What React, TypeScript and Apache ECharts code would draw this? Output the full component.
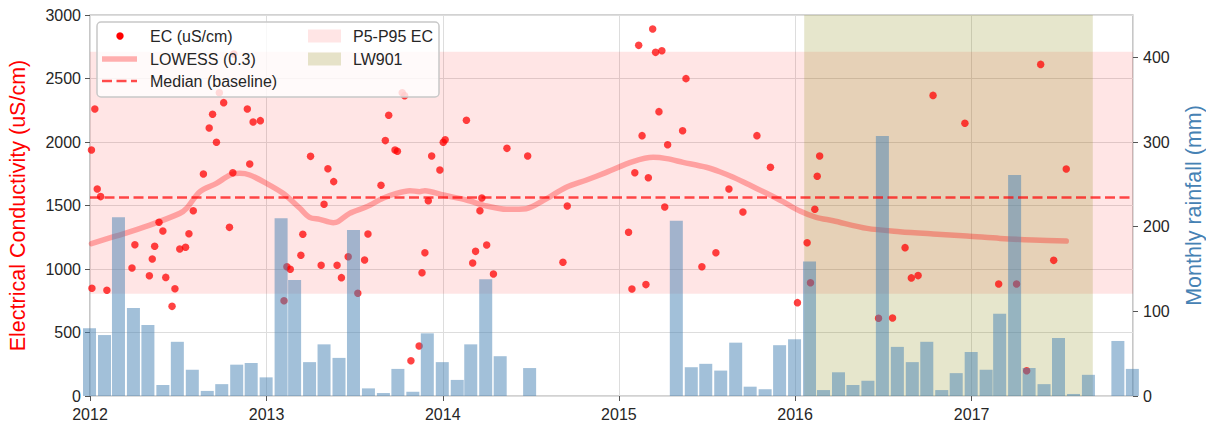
import React, { useEffect, useRef } from 'react';
import * as echarts from 'echarts';

const ecDates = [
  '2012-01-04','2012-01-05','2012-01-11','2012-01-16','2012-01-23','2012-02-05','2012-03-28','2012-04-03',
  '2012-05-03','2012-05-09','2012-05-14','2012-05-23','2012-05-31','2012-06-06','2012-06-19','2012-06-25',
  '2012-07-05','2012-07-17','2012-07-24','2012-08-02','2012-08-23','2012-09-04','2012-09-11','2012-09-19',
  '2012-09-25','2012-10-04','2012-10-16','2012-10-23','2012-10-25','2012-11-22','2012-11-27','2012-12-04',
  '2012-12-19','2013-02-06','2013-02-12','2013-02-19','2013-03-13','2013-03-17','2013-04-02','2013-04-24',
  '2013-04-30','2013-05-08','2013-05-20','2013-05-27','2013-06-05','2013-06-19','2013-07-09','2013-07-23',
  '2013-07-30','2013-08-26','2013-09-04','2013-09-11','2013-09-24','2013-09-29','2013-10-09','2013-10-14',
  '2013-10-27','2013-11-13','2013-11-19','2013-11-25','2013-12-02','2013-12-09','2013-12-26','2014-01-02',
  '2014-01-06','2014-02-19','2014-03-04','2014-03-10','2014-03-19','2014-03-23','2014-04-02','2014-04-16',
  '2014-05-14','2014-06-26','2014-09-07','2014-09-16','2015-01-21','2015-01-28','2015-02-03','2015-02-11',
  '2015-02-18','2015-02-26','2015-03-03','2015-03-12','2015-03-18','2015-03-25','2015-03-31','2015-04-06',
  '2015-04-12','2015-05-13','2015-05-20','2015-06-22','2015-07-21','2015-08-17','2015-09-15','2015-10-14',
  '2015-11-11','2016-01-06','2016-01-26','2016-02-02','2016-02-11','2016-02-16','2016-02-21','2016-06-22',
  '2016-07-21','2016-08-16','2016-08-29','2016-09-12','2016-10-13','2016-12-18','2017-02-26','2017-04-04',
  '2017-04-25','2017-05-24','2017-06-20','2017-07-16',
];
const ecValues = [
  1937, 848, 2260, 1630, 1570, 832, 1008, 1191,
  947, 1079, 1179, 1368, 1299, 934, 706, 845,
  1157, 1171, 1278, 1459, 1748, 2110, 2218, 1998,
  2388, 2310, 1328, 1758, 2693, 2260, 1827, 2157,
  2168, 750, 1018, 998, 1108, 1273, 1887, 1029,
  1510, 1790, 1688, 1029, 932, 1097, 809, 1071,
  1276, 1659, 2011, 2210, 1937, 1927, 2388, 2365,
  278, 394, 970, 1128, 1538, 1890, 1780, 1998,
  2018, 2171, 1047, 1139, 1459, 1559, 1189, 961,
  1950, 1890, 1053, 1496, 1289, 843, 1758, 2761,
  2050, 877, 1719, 2890, 2706, 2239, 2719, 1488,
  1979, 2089, 2499, 1018, 1128, 1630, 1449, 2050,
  1801, 735, 1207, 892, 1470, 1730, 1890, 612,
  614, 1168, 930, 948, 2367, 2147, 882, 882,
  199, 2611, 1068, 1787,
];

const lowessDates = [
  '2012-01-04','2012-02-25','2012-05-04','2012-07-05','2012-07-19','2012-08-16','2012-09-19','2012-10-17',
  '2012-11-06','2012-11-27','2013-01-01','2013-02-04','2013-03-11','2013-03-31','2013-04-21','2013-05-19',
  '2013-05-29','2013-06-22','2013-07-27','2013-08-30','2013-09-27','2013-10-25','2013-11-14','2013-11-25',
  '2014-01-02','2014-02-19','2014-04-02','2014-05-13','2014-06-23','2014-07-28','2014-09-14','2014-10-26',
  '2014-12-06','2015-01-30','2015-03-13','2015-04-10','2015-05-14','2015-07-01','2015-07-29','2015-08-26',
  '2015-09-29','2015-11-03','2015-12-07','2016-01-11','2016-02-14','2016-03-20','2016-05-29','2016-08-05',
  '2016-10-13','2016-12-22','2017-03-01','2017-05-08','2017-07-16',
];
const lowessValues = [
  1200, 1260, 1346, 1438, 1478, 1609, 1674, 1740,
  1753, 1740, 1674, 1596, 1478, 1407, 1391, 1365,
  1373, 1438, 1490, 1557, 1596, 1617, 1609, 1617,
  1583, 1543, 1496, 1470, 1475, 1538, 1643, 1701,
  1761, 1845, 1879, 1869, 1840, 1801, 1766, 1722,
  1661, 1596, 1530, 1457, 1407, 1380, 1320, 1294,
  1276, 1260, 1241, 1228, 1220,
];

const rainMonths = [
  '2011-12',
  '2012-01','2012-02','2012-03','2012-04','2012-05','2012-06','2012-07','2012-08','2012-09','2012-10','2012-11','2012-12',
  '2013-01','2013-02','2013-03','2013-04','2013-05','2013-06','2013-07','2013-08','2013-09','2013-10','2013-11','2013-12',
  '2014-01','2014-02','2014-03','2014-04','2014-05','2014-06','2014-07','2014-08','2014-09','2014-10','2014-11','2014-12',
  '2015-01','2015-02','2015-03','2015-04','2015-05','2015-06','2015-07','2015-08','2015-09','2015-10','2015-11','2015-12',
  '2016-01','2016-02','2016-03','2016-04','2016-05','2016-06','2016-07','2016-08','2016-09','2016-10','2016-11','2016-12',
  '2017-01','2017-02','2017-03','2017-04','2017-05','2017-06','2017-07','2017-08','2017-09','2017-10','2017-11',
];
const rainValues = [
  80,
  72, 211, 104, 84, 13, 64, 31, 6, 14, 37, 39, 22,
  210, 137, 40, 61, 45, 196, 9, 3.5, 32, 5, 74, 40,
  19, 61, 138, 47, 0, 33, 0, 0, 0, 0, 0, 0,
  0, 0, 0, 207, 34, 38, 30, 63, 11, 8, 60, 67,
  159, 7, 28, 13, 18, 307, 58, 40, 64, 7, 27, 52,
  31, 97, 261, 33, 14, 68.5, 2.4, 25, 0, 65, 32,
];

const MEDIAN_EC = 1567;
const P5_EC = 805;
const P95_EC = 2711;
const LW901_START = '2016-01-20';
const LW901_END = '2017-09-09';

const X_MIN = '2012-01-01';
const X_MAX = '2017-12-01 08:00';

const EC_TICKS_MAX = 3000;
const RAIN_MAX = 450;
const rainTickValues = [0, 100, 200, 300, 400];

const FONT = '"Liberation Sans", Arial, sans-serif';

function monthEnd(m: string): number {
  const [y, mo] = m.split('-').map(Number);
  return new Date(y, mo, 0).getTime();
}
function toTime(s: string): number {
  const [d, t] = s.split(' ');
  const [y, m, day] = d.split('-').map(Number);
  const h = t ? Number(t.split(':')[0]) : 0;
  return new Date(y, m - 1, day, h).getTime();
}

export default function App() {
  const ref = useRef<HTMLDivElement>(null);
  useEffect(() => {
    document.body.style.margin = '0';
    const chart = echarts.init(ref.current!, undefined, { renderer: 'svg' });
    const ecData = ecDates.map((d, i) => [toTime(d), ecValues[i]]);
    const lowessData = lowessDates.map((d, i) => [toTime(d), lowessValues[i]]);
    const rainData = rainMonths.map((m, i) => [monthEnd(m), rainValues[i]]);
    const xMin = toTime(X_MIN);
    const xMax = toTime(X_MAX);
    const tickColor = '#555555';
    const labelColor = '#262626';
    const option: any = {
      animation: false,
      textStyle: { fontFamily: FONT },
      grid: {
        left: 90, right: 73, top: 15, bottom: 28,
        containLabel: false, outerBoundsMode: 'none',
        show: true, borderColor: '#a6a6a6', borderWidth: 1.25, backgroundColor: 'transparent',
      },
      xAxis: [
        {
          type: 'time',
          min: xMin,
          max: xMax,
          minInterval: 365 * 24 * 3600 * 1000,
          splitNumber: 6,
          axisLine: { show: false },
          axisTick: { show: true, length: 5, lineStyle: { color: tickColor } },
          axisLabel: {
            formatter: '{yyyy}', color: labelColor, fontSize: 16, margin: 10, fontFamily: FONT,
            fontWeight: 'normal', rich: {},
          },
          splitLine: { show: true, lineStyle: { color: '#dddddd', width: 1 } },
        },
        {
          type: 'value', min: xMin, max: xMax, show: false,
          splitLine: { show: false }, axisTick: { show: false }, axisLabel: { show: false }, axisLine: { show: false },
        },
      ],
      yAxis: [
        {
          type: 'value', min: 0, max: EC_TICKS_MAX, interval: 500,
          name: 'Electrical Conductivity (uS/cm)', nameLocation: 'middle', nameRotate: 90, nameGap: 61,
          nameTextStyle: { color: '#ff0000', fontSize: 21.5, fontFamily: FONT },
          axisLine: { show: false },
          axisTick: { show: true, length: 5, lineStyle: { color: tickColor } },
          axisLabel: { color: labelColor, fontSize: 16, margin: 9, fontFamily: FONT, formatter: (v: number) => String(v) },
          splitLine: { show: true, lineStyle: { color: '#dddddd', width: 1 } },
        },
        {
          type: 'value', min: 0, max: RAIN_MAX, position: 'right',
          name: 'Monthly rainfall (mm)', nameLocation: 'middle', nameRotate: 90, nameGap: 50,
          nameTextStyle: { color: '#4682b4', fontSize: 21.5, fontFamily: FONT },
          axisLine: { show: false },
          axisTick: { show: true, length: 5, lineStyle: { color: tickColor }, customValues: rainTickValues },
          axisLabel: { color: labelColor, fontSize: 16, margin: 10, fontFamily: FONT, customValues: rainTickValues, formatter: (v: number) => String(v) },
          splitLine: { show: false },
        },
      ],
      series: [
        {
          name: 'bands', type: 'line', data: [], z: 0, silent: true,
          markArea: {
            silent: true,
            label: { show: false },
            data: [
              [{ yAxis: P5_EC, itemStyle: { color: 'rgba(255,0,0,0.1)' } }, { yAxis: P95_EC }],
              [{ xAxis: toTime(LW901_START), itemStyle: { color: 'rgba(128,128,0,0.2)' } }, { xAxis: toTime(LW901_END) }],
            ],
          },
        },
        {
          name: 'LOWESS (0.3)', type: 'line', data: lowessData, z: 2, silent: true,
          showSymbol: false, symbol: 'none', smooth: 0.3,
          lineStyle: { color: 'rgba(255,0,0,0.3)', width: 5.5, cap: 'round', join: 'round' },
          markLine: {
            silent: true, symbol: 'none', label: { show: false },
            lineStyle: { color: 'rgba(255,0,0,0.7)', width: 2.5, type: [10, 4.5] },
            data: [{ yAxis: MEDIAN_EC }],
          },
        },
        {
          name: 'EC (uS/cm)', type: 'scatter', data: ecData, z: 3, silent: true,
          symbol: 'circle', symbolSize: 7.5,
          itemStyle: { color: 'rgba(255,0,0,0.92)' },
        },
        {
          name: 'Monthly rainfall', type: 'bar', xAxisIndex: 1, yAxisIndex: 1, data: rainData, z: 4, silent: true,
          barWidth: 13, clip: true,
          itemStyle: { color: 'rgba(70,130,180,0.5)' },
        },
      ],
      graphic: [
        { type: 'rect', z: 100, shape: { x: 97, y: 22, width: 342, height: 75, r: 4 },
          style: { fill: 'rgba(255,255,255,0.8)', stroke: '#c8c8c8', lineWidth: 1.5 } },
        { type: 'circle', z: 101, shape: { cx: 120, cy: 36, r: 3.7 }, style: { fill: '#ff0000' } },
        { type: 'line', z: 101, shape: { x1: 102, y1: 59, x2: 137, y2: 59 },
          style: { stroke: 'rgba(255,0,0,0.3)', lineWidth: 5.5 } },
        { type: 'line', z: 101, shape: { x1: 102, y1: 81, x2: 137, y2: 81 },
          style: { stroke: 'rgba(255,0,0,0.7)', lineWidth: 2.5, lineDash: [10, 4.5] } },
        { type: 'rect', z: 101, shape: { x: 308, y: 29.5, width: 33, height: 13 },
          style: { fill: 'rgba(255,0,0,0.1)' } },
        { type: 'rect', z: 101, shape: { x: 308, y: 52.5, width: 33, height: 13 },
          style: { fill: 'rgba(128,128,0,0.2)' } },
        { type: 'text', z: 101, x: 150, y: 36, style: { text: 'EC (uS/cm)', fill: '#262626', fontSize: 16, fontFamily: FONT, verticalAlign: 'middle' } },
        { type: 'text', z: 101, x: 150, y: 59, style: { text: 'LOWESS (0.3)', fill: '#262626', fontSize: 16, fontFamily: FONT, verticalAlign: 'middle' } },
        { type: 'text', z: 101, x: 150, y: 81, style: { text: 'Median (baseline)', fill: '#262626', fontSize: 16, fontFamily: FONT, verticalAlign: 'middle' } },
        { type: 'text', z: 101, x: 353, y: 36, style: { text: 'P5-P95 EC', fill: '#262626', fontSize: 16, fontFamily: FONT, verticalAlign: 'middle' } },
        { type: 'text', z: 101, x: 353, y: 59, style: { text: 'LW901', fill: '#262626', fontSize: 16, fontFamily: FONT, verticalAlign: 'middle' } },
      ],
    };
    chart.setOption(option);
    return () => chart.dispose();
  }, []);
  return <div ref={ref} style={{ width: 1206, height: 424 }} />;
}
